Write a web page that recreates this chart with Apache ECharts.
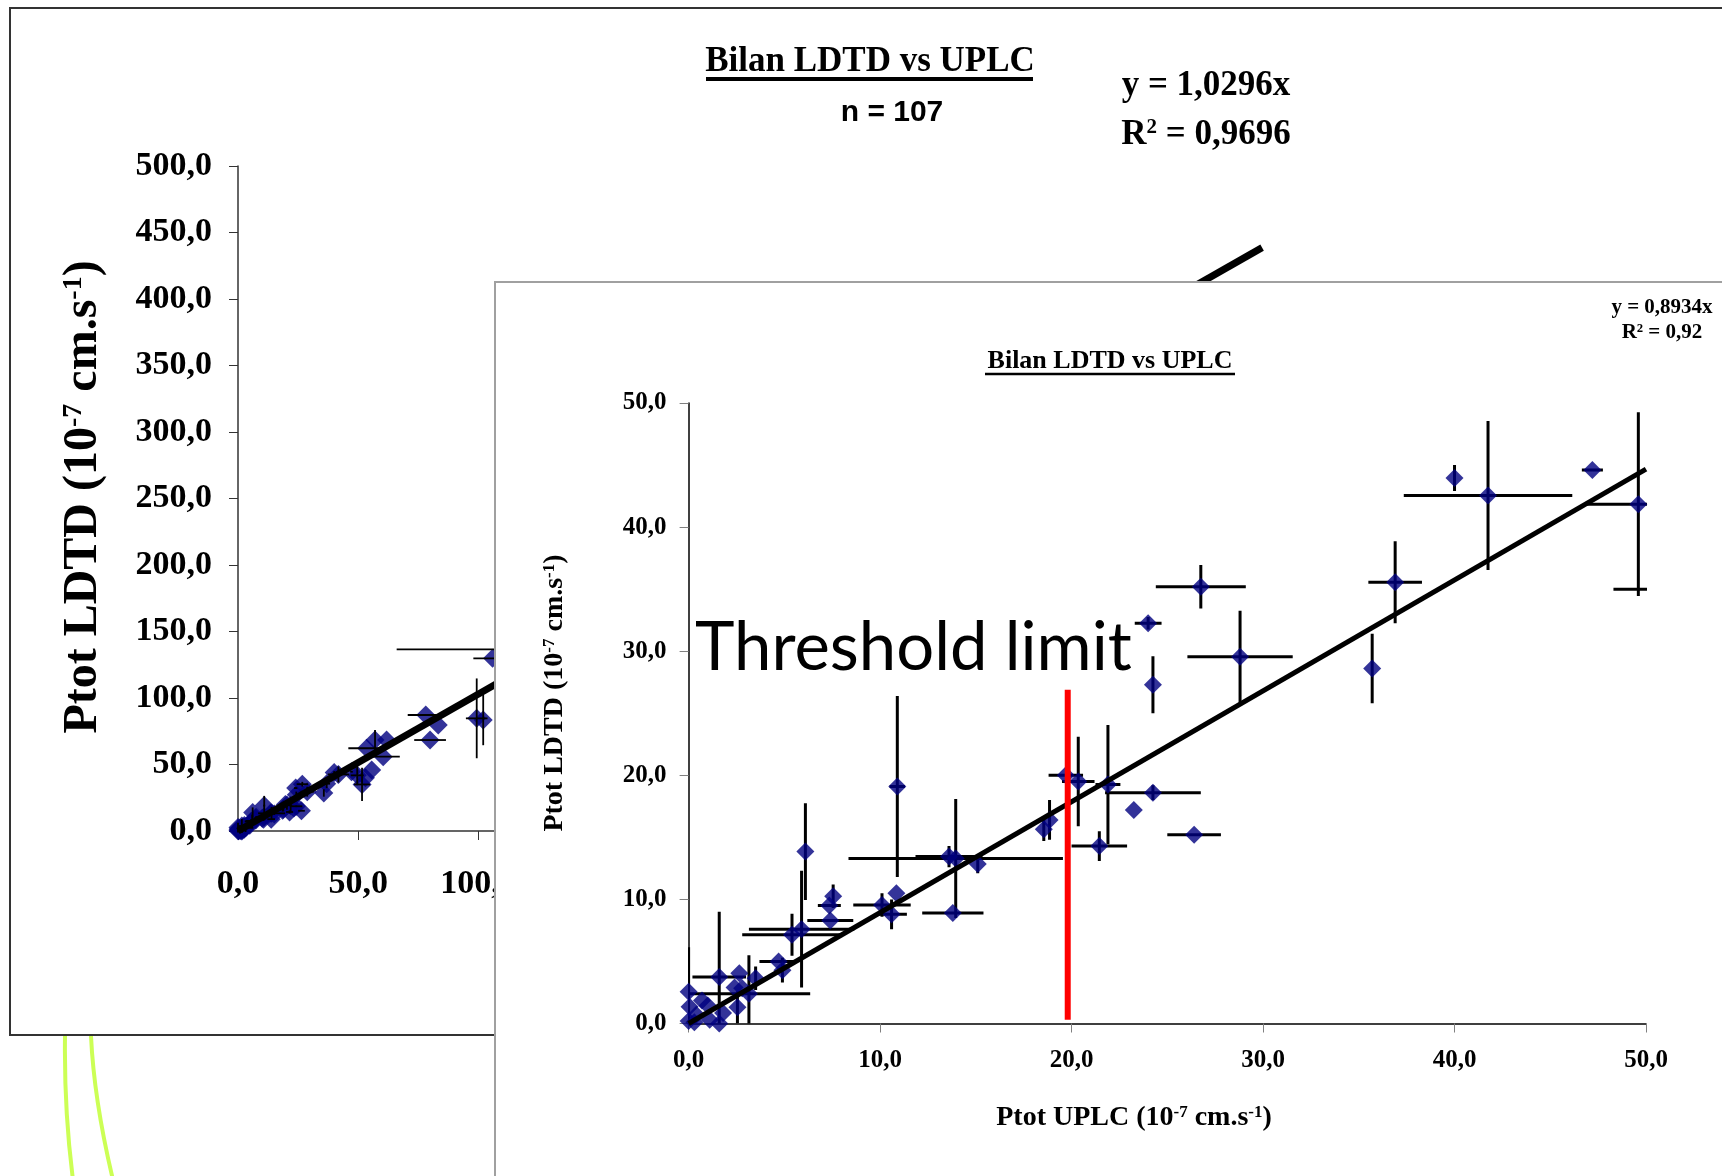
<!DOCTYPE html>
<html>
<head>
<meta charset="utf-8">
<title>Bilan LDTD vs UPLC</title>
<script src="https://cdn.jsdelivr.net/npm/echarts@6/dist/echarts.min.js"></script>
<style>
  html, body { margin: 0; padding: 0; background: #fff; }
  #chart { width: 1722px; height: 1176px; }
</style>
</head>
<body>
<div id="chart"></div>
<script>
// front chart (zoom 0-50) : Ptot UPLC / Ptot LDTD, with error bars
const frontX = [0.0, 0.05, 0.0, 0.3, 0.7, 1.0, 0.4, 1.1, 1.6, 1.6, 1.8, 2.65, 2.4, 2.8, 2.55, 3.15, 3.5, 4.7, 4.9, 5.4,
  5.9, 6.1, 7.4, 7.35, 7.55, 10.1, 10.6, 10.85, 10.9, 13.6, 13.95, 13.8, 15.1, 18.55, 18.85, 19.7, 20.35, 21.45, 21.9, 24.25,
  23.25, 26.4, 24.0, 24.25, 26.75, 28.8, 35.7, 36.9, 40.0, 41.75, 47.2, 49.6, 51.6]
const frontY = [2.55, 1.35, 0.2, 0.1, 1.85, 1.45, 0.7, 0.3, 3.75, 0.0, 0.85, 4.05, 2.9, 2.85, 1.3, 2.4, 3.65, 5.0, 4.3, 7.15,
  7.6, 13.85, 8.3, 9.5, 10.25, 9.55, 8.8, 10.5, 19.1, 13.45, 13.3, 8.9, 12.85, 15.65, 16.4, 20.0, 19.5, 14.3, 19.25, 18.6,
  17.2, 15.2, 32.25, 27.3, 35.2, 29.55, 28.6, 35.55, 43.95, 42.55, 44.6, 41.85, 35.0]
const frontXErr = [0, 0, 0, 0, 0, 0, 0, 0, 1.4, 0, 0, 0, 0, 0, 0, 3.2, 0, 1.0, 0, 2.6,
  2.75, 0, 1.2, 0.6, 0, 1.5, 0.8, 0, 0.4, 1.75, 5.6, 1.6, 0, 0, 0, 0.9, 0.85, 1.45, 0.65, 2.5,
  0, 1.4, 0.7, 0, 2.35, 2.75, 0, 1.4, 0, 4.4, 0.55, 2.7, 3.3]
const frontYErr = [3.6, 0, 0, 0, 0, 0, 0, 0, 5.25, 0, 0, 0, 0, 0, 1.3, 3.1, 0.95, 0, 1.0, 1.7,
  4.7, 3.9, 0, 0, 0.95, 0.95, 1.2, 0, 7.3, 0.85, 4.8, 0, 0.75, 0.95, 1.6, 0, 3.6, 1.2, 4.8, 0.6,
  0, 0, 0.5, 2.3, 1.75, 3.7, 2.8, 3.3, 1.05, 6.0, 0, 7.4, 12.5]

// back chart (full range) : the points above 50 (the rest is the front data)
const backX = [53.5, 57.0, 61.8, 60.4, 55.6, 53.0, 78.1, 83.3, 79.9, 99.3, 102.0, 105.9, 120.0]
const backY = [62.2, 68.4, 68.4, 55.9, 45.9, 40.0, 87.2, 79.7, 68.4, 84.7, 83.5, 129.8, 136.6]
const backXErr = [7.6, 0, 0, 6.9, 0, 0, 7.5, 0, 6.6, 4.5, 0, 8.0, 54.0]
const backYErr = [0, 7.5, 0, 0, 0, 0, 0, 0, 0, 30.0, 19.0, 0, 0]

// trend lines  y = a.x
const frontSlope = 0.8934
const frontFitX = [0, 50]
const backSlope = 1.0296
const backFitX = [0, 426]

// threshold limit (red line)
const thresholdX = 19.8
const thresholdY = [0.3, 26.9]

// axis ranges
const backAxisMax = 500
const backAxisStep = 50
const frontAxisMax = 50
const frontAxisStep = 10

const serif = '"Liberation Serif", "Times New Roman", serif'
const navy = '#000080'

function fmt(v) {
  return v.toFixed(1).replace('.', ',')
}

// error bars drawn with the axes of the series
function errorBars(lineWidth) {
  return function (params, api) {
    let x = api.value(0)
    let y = api.value(1)
    let xe = api.value(2)
    let ye = api.value(3)
    let children = []
    if (xe > 0) {
      let a = api.coord([x - xe, y])
      let b = api.coord([x + xe, y])
      children.push({ type: 'line', shape: { x1: a[0], y1: a[1], x2: b[0], y2: b[1] }, style: { stroke: '#000', lineWidth: lineWidth } })
    }
    if (ye > 0) {
      let a = api.coord([x, y - ye])
      let b = api.coord([x, y + ye])
      children.push({ type: 'line', shape: { x1: a[0], y1: a[1], x2: b[0], y2: b[1] }, style: { stroke: '#000', lineWidth: lineWidth } })
    }
    return { type: 'group', children: children }
  }
}

function axisStyle(color, fontSize, margin, z) {
  return {
    z: z,
    axisLine: { show: true, onZero: false, lineStyle: { color: color, width: 1.5 } },
    axisTick: { show: true, inside: false, length: 9, lineStyle: { color: color === '#000' ? '#808080' : color } },
    axisLabel: { formatter: fmt, margin: margin, color: '#000', fontFamily: serif, fontWeight: 'bold', fontSize: fontSize },
    splitLine: { show: false }
  }
}

function richTitle(main, sup) {
  return {
    b: { fontFamily: serif, fontWeight: 'bold', fontSize: main, fill: '#000' },
    s: { fontFamily: serif, fontWeight: 'bold', fontSize: sup, fill: '#000', verticalAlign: 'top' }
  }
}

function txt(x, y, text, font, align, z, extra) {
  let el = {
    type: 'text', x: x, y: y, z: z,
    style: { text: text, font: font, fill: '#000', align: align, textAlign: align, verticalAlign: 'middle', textVerticalAlign: 'middle' }
  }
  return Object.assign(el, extra || {})
}

const frontPts = frontX.map((x, i) => [x, frontY[i]])
const frontBars = frontX.map((x, i) => [x, frontY[i], frontXErr[i], frontYErr[i]])
const backPts = frontPts.concat(backX.map((x, i) => [x, backY[i]]))
const backBars = frontBars.concat(backX.map((x, i) => [x, backY[i], backXErr[i], backYErr[i]]))

const chart = echarts.init(document.getElementById('chart'), null, { renderer: 'canvas' })

const option = {
  animation: false,
  backgroundColor: '#fff',
  grid: [
    { left: 238, top: 166, width: 1202, height: 665, outerBoundsMode: 'none', containLabel: false },
    { left: 688.6, top: 403, width: 957.4, height: 620.5, outerBoundsMode: 'none', containLabel: false }
  ],
  xAxis: [
    Object.assign({ type: 'value', gridIndex: 0, min: 0, max: backAxisMax, interval: backAxisStep }, axisStyle('#333', 34, 36, 0)),
    Object.assign({ type: 'value', gridIndex: 1, min: 0, max: frontAxisMax, interval: frontAxisStep }, axisStyle('#000', 25, 25, 6))
  ],
  yAxis: [
    Object.assign({ type: 'value', gridIndex: 0, min: 0, max: backAxisMax, interval: backAxisStep }, axisStyle('#333', 34, 26, 0)),
    Object.assign({ type: 'value', gridIndex: 1, min: 0, max: frontAxisMax, interval: frontAxisStep }, axisStyle('#000', 25, 22, 6))
  ],
  series: [
    // back chart
    { type: 'scatter', xAxisIndex: 0, yAxisIndex: 0, z: 2, symbol: 'diamond', symbolSize: 19, itemStyle: { color: navy }, data: backPts },
    { type: 'custom', xAxisIndex: 0, yAxisIndex: 0, z: 3, renderItem: errorBars(1.8), encode: { x: 0, y: 1 }, data: backBars },
    { type: 'line', xAxisIndex: 0, yAxisIndex: 0, z: 4, symbol: 'none', lineStyle: { color: '#000', width: 7 },
      data: backFitX.map(x => [x, backSlope * x]) },
    // front chart
    { type: 'scatter', xAxisIndex: 1, yAxisIndex: 1, z: 7, symbol: 'diamond', symbolSize: 18, itemStyle: { color: navy }, data: frontPts },
    { type: 'custom', xAxisIndex: 1, yAxisIndex: 1, z: 7, clip: true, renderItem: errorBars(3), encode: { x: 0, y: 1 }, data: frontBars },
    { type: 'line', xAxisIndex: 1, yAxisIndex: 1, z: 8, symbol: 'none', lineStyle: { color: '#000', width: 5 },
      data: frontFitX.map(x => [x, frontSlope * x]) },
    { type: 'line', xAxisIndex: 1, yAxisIndex: 1, z: 9, symbol: 'none', lineStyle: { color: '#ff0000', width: 6 },
      data: thresholdY.map(y => [thresholdX, y]) }
  ],
  graphic: [
    // back panel and decorations
    { type: 'rect', z: -1, shape: { x: 10, y: 8, width: 1740, height: 1027 }, style: { fill: 'none', stroke: '#333', lineWidth: 2 } },
    { type: 'bezierCurve', z: -1, shape: { x1: 65, y1: 1036, cpx1: 64, cpy1: 1110, x2: 73, y2: 1180 }, style: { stroke: '#ccff55', lineWidth: 4, fill: 'none' } },
    { type: 'bezierCurve', z: -1, shape: { x1: 91, y1: 1036, cpx1: 94, cpy1: 1100, x2: 113, y2: 1180 }, style: { stroke: '#ccff55', lineWidth: 4, fill: 'none' } },
    txt(870, 62, 'Bilan LDTD vs UPLC', 'bold 35px ' + serif, 'center', 3),
    { type: 'line', z: 3, shape: { x1: 706, y1: 79, x2: 1033, y2: 79 }, style: { stroke: '#000', lineWidth: 4 } },
    txt(892, 113, 'n = 107', 'bold 30px "Liberation Sans", Arial, sans-serif', 'center', 3),
    txt(1206, 86, 'y = 1,0296x', 'bold 35px ' + serif, 'center', 3),
    txt(1206, 135, '{b|R}{s|2}{b| = 0,9696}', 'bold 35px ' + serif, 'center', 3, {}),
    txt(84, 497, '{b|Ptot LDTD (10}{s|-7}{b| cm.s}{s|-1}{b|)}', 'bold 48px ' + serif, 'center', 3, { rotation: Math.PI / 2 }),
    // front panel covers the back chart
    { type: 'rect', z: 5, shape: { x: 495, y: 282, width: 1300, height: 1000 }, style: { fill: '#fff', stroke: '#a0a0a0', lineWidth: 2 } },
    txt(1110, 361, 'Bilan LDTD vs UPLC', 'bold 26px ' + serif, 'center', 10),
    { type: 'line', z: 10, shape: { x1: 985, y1: 374, x2: 1235, y2: 374 }, style: { stroke: '#000', lineWidth: 2.5 } },
    txt(1662, 308, 'y = 0,8934x', 'bold 21px ' + serif, 'center', 10),
    txt(1662, 333, 'R² = 0,92', 'bold 21px ' + serif, 'center', 10),
    txt(1134, 1118, '{b|Ptot UPLC (10}{s|-7}{b| cm.s}{s|-1}{b|)}', 'bold 28px ' + serif, 'center', 10),
    txt(555, 693, '{b|Ptot LDTD (10}{s|-7}{b| cm.s}{s|-1}{b|)}', 'bold 28px ' + serif, 'center', 10, { rotation: Math.PI / 2 }),
    txt(695, 648, 'Threshold limit', '67px Lato, "Open Sans", sans-serif', 'left', 10)
  ]
}

// rich styles for the superscripts
option.graphic[6].style.rich = richTitle(35, 21)
option.graphic[7].style.rich = richTitle(35, 21)
option.graphic[8].style.rich = richTitle(48, 28)
option.graphic[14].style.rich = richTitle(28, 17)
option.graphic[15].style.rich = richTitle(28, 17)

chart.setOption(option)
</script>
</body>
</html>
